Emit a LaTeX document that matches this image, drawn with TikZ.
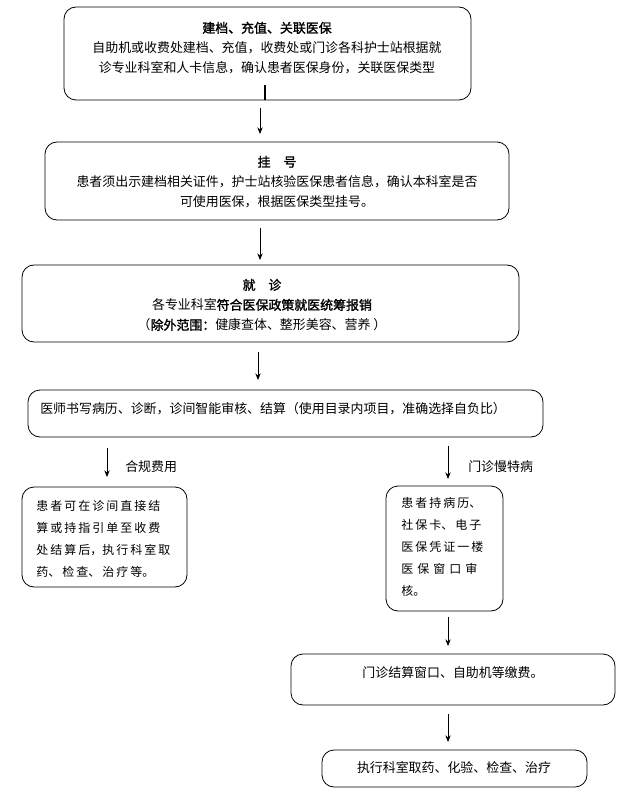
\documentclass[tikz,border=0pt]{standalone}
\usepackage{fontspec}
\usetikzlibrary{arrows.meta}
\setmainfont{Noto Sans CJK SC}
\newfontfamily\cjkb[FakeBold=1.5]{Noto Sans CJK SC}
\begin{document}
\begin{tikzpicture}[x=0.75pt,y=-0.75pt,
 box/.style={draw,rounded corners=9pt,line width=0.6pt},
 txt/.style={font=\fontsize{9.7}{15}\selectfont,align=center,inner sep=0},
 ltxt/.style={font=\fontsize{9}{16.5}\selectfont,align=left,inner sep=0,anchor=north west},
 arr/.style={-{Stealth[length=5pt,width=4pt]},line width=0.6pt}]
\useasboundingbox (0,0) rectangle (629,809);
% box 1
\draw[box] (64,7) rectangle (471,100);
\node[txt] (b1) at (267,48) {{\cjkb 建档、充值、关联医保}\\自助机或收费处建档、充值，收费处或门诊各科护士站根据就\\诊专业科室和人卡信息，确认患者医保身份，关联医保类型};
\draw[line width=1.2pt] (265,85) -- (265,100);
\coordinate (a1s) at (260,108); \coordinate (a1e) at (260,134);
\draw[arr] (a1s) -- (a1e);
% box 2
\draw[box] (45,142) rectangle (509,220);
\node[txt] (b2) at (277,182) {{\cjkb 挂\quad 号}\\患者须出示建档相关证件，护士站核验医保患者信息，确认本科室是否\\可使用医保，根据医保类型挂号。};
\coordinate (a2s) at (260,228); \coordinate (a2e) at (260,260);
\draw[arr] (a2s) -- (a2e);
% box 3
\draw[box] (22,265) rectangle (519,342);
\node[txt] (b3) at (262,305) {{\cjkb 就\quad 诊}\\各专业科室{\cjkb 符合医保政策就医统筹报销}\\（{\cjkb 除外范围：}健康查体、整形美容、营养 ）};
\coordinate (a3s) at (258,352); \coordinate (a3e) at (258,380);
\draw[arr] (a3s) -- (a3e);
% box 4
\draw[box] (28,390) rectangle (543,437);
\node[txt,anchor=west] (b4) at (40,409) {医师书写病历、诊断，诊间智能审核、结算（使用目录内项目，准确选择自负比）};
% branches
\coordinate (l1) at (107,448); \coordinate (l2) at (107,477);
\draw[arr] (l1) -- (l2);
\node[txt,anchor=west] (lab1) at (125,467) {合规费用};
\coordinate (r1) at (448,446); \coordinate (r2) at (448,479);
\draw[arr] (r1) -- (r2);
\node[txt,anchor=west] (lab2) at (468,467) {门诊慢特病};
% box 5L
\draw[box] (22,487) rectangle (187,587);
\node[ltxt] (b5l) at (36,500) {患\,者\,可\,在\,诊\,间\,直\,接\,结\\算\,或\,持\,指\,引\,单\,至\,收\,费\\处\,结\,算\,后，执\,行\,科\,室\,取\\药、\,检\,查、\,治\,疗\,等。};
% box 5R
\draw[box] (386,486) rectangle (503,611);
\node[ltxt] (b5r) at (401,497) {患\,者\,持\,病\,历、\\社\,保\,卡、\,电\,子\\医\,保\,凭\,证\,一\,楼\\医\,\,保\,\,窗\,\,口\,\,审\\核。};
\coordinate (a5s) at (448,617); \coordinate (a5e) at (448,646);
\draw[arr] (a5s) -- (a5e);
% box 6
\draw[box] (291,654) rectangle (615,705);
\node[txt] (b6) at (453,673) {门诊结算窗口、自助机等缴费。};
\coordinate (a6s) at (448,714); \coordinate (a6e) at (448,742);
\draw[arr] (a6s) -- (a6e);
% box 7
\draw[box] (322,750) rectangle (587,787);
\node[txt] (b7) at (454,768) {执行科室取药、化验、检查、治疗};
\end{tikzpicture}
\end{document}
